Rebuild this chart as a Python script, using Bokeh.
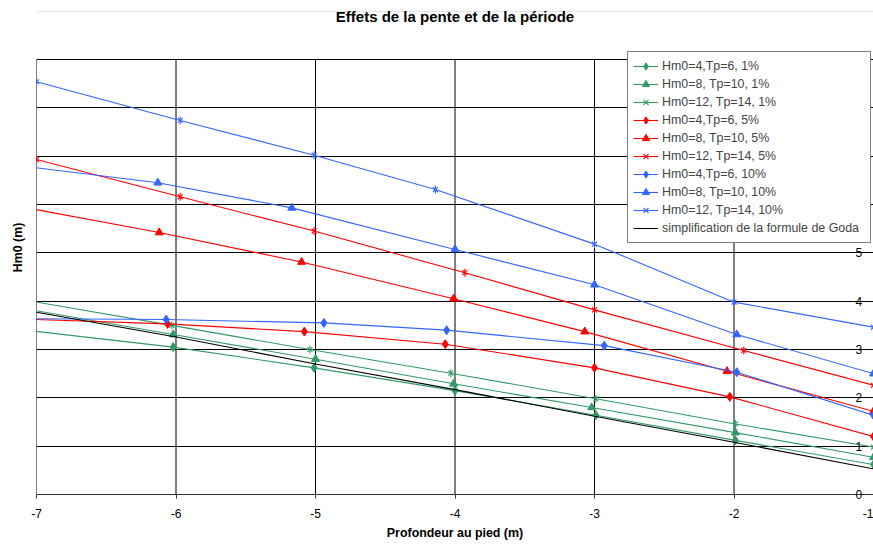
import numpy as np
from bokeh.plotting import figure
from bokeh.models import (Range1d, FixedTicker, Legend, LegendItem,
                          LinearAxis, Grid, Label)
from bokeh.embed import file_html
from bokeh.resources import INLINE

# Profondeur au pied (m) / Hm0 (m) for each case (swell height, period, slope)
x_h4_1 = [-7.2, -6.02, -5.01, -4.0, -2.99, -1.99, -1.0]
y_h4_1 = [3.44, 3.05, 2.62, 2.15, 1.64, 1.12, 0.62]
x_h8_1 = [-7.2, -6.02, -5.0, -4.01, -3.02, -1.99, -1.0]
y_h8_1 = [3.90, 3.31, 2.80, 2.29, 1.80, 1.28, 0.77]
x_h12_1 = [-7.2, -6.03, -5.04, -4.03, -2.99, -1.99, -1.0]
y_h12_1 = [4.08, 3.50, 3.00, 2.51, 1.98, 1.46, 0.98]

x_h4_5 = [-7.2, -6.06, -5.08, -4.07, -3.0, -2.03, -1.0]
y_h4_5 = [3.64, 3.53, 3.37, 3.11, 2.62, 2.02, 1.20]
x_h8_5 = [-7.2, -6.12, -5.10, -4.01, -3.07, -2.05, -1.0]
y_h8_5 = [6.00, 5.42, 4.81, 4.05, 3.37, 2.55, 1.72]
x_h12_5 = [-7.0, -5.97, -5.01, -3.93, -3.0, -1.93, -1.0]
y_h12_5 = [6.93, 6.16, 5.45, 4.59, 3.82, 2.98, 2.26]

x_h4_10 = [-7.2, -6.07, -4.94, -4.06, -2.93, -1.98, -1.0]
y_h4_10 = [3.64, 3.62, 3.55, 3.40, 3.08, 2.53, 1.64]
x_h8_10 = [-7.2, -6.13, -5.17, -4.0, -3.0, -1.98, -1.0]
y_h8_10 = [6.83, 6.45, 5.93, 5.07, 4.34, 3.31, 2.50]
x_h12_10 = [-7.0, -5.97, -5.01, -4.14, -3.0, -2.0, -1.0]
y_h12_10 = [8.54, 7.74, 7.02, 6.31, 5.18, 3.98, 3.46]

x_goda = [-7, -6, -5, -4, -3, -2, -1]
y_goda = [3.77, 3.26, 2.70, 2.17, 1.62, 1.08, 0.53]

labels = ["Hm0=4,Tp=6, 1%", "Hm0=8, Tp=10, 1%", "Hm0=12, Tp=14, 1%",
          "Hm0=4,Tp=6, 5%", "Hm0=8, Tp=10, 5%", "Hm0=12, Tp=14, 5%",
          "Hm0=4,Tp=6, 10%", "Hm0=8, Tp=10, 10%", "Hm0=12, Tp=14, 10%",
          "simplification de la formule de Goda"]

x_ticks = [-7, -6, -5, -4, -3, -2, -1]
y_ticks = [0, 1, 2, 3, 4, 5, 6, 7, 8, 9]

GREEN = "#339966"
RED = "#FF0000"
BLUE = "#3366FF"
FONT = "Liberation Sans"

# the plotting area reaches the top of the canvas so the title sits inside it;
# grid lines stop at the last tick (9)
p = figure(width=873, height=545, x_range=Range1d(-7, -1),
           y_range=Range1d(0, 10.221), title=None,
           output_backend="svg", toolbar_location=None, y_axis_location=None,
           min_border_left=36, min_border_right=0, min_border_top=0,
           min_border_bottom=51)
p.outline_line_color = None
p.background_fill_color = "white"

# x axis at the bottom (plain hyphen for the minus sign)
ax = p.xaxis[0]
ax.ticker = FixedTicker(ticks=x_ticks)
ax.major_label_overrides = {t: str(t) for t in x_ticks}
ax.major_tick_out = 4
ax.major_tick_in = 0
ax.minor_tick_line_color = None
ax.axis_line_color = "#333333"
ax.major_tick_line_color = "#333333"
ax.major_label_text_font = FONT
ax.major_label_text_font_size = "12px"
ax.major_label_text_color = "black"
ax.major_label_standoff = 10
ax.axis_label = "Profondeur au pied (m)"
ax.axis_label_text_font = FONT
ax.axis_label_text_font_size = "12.4px"
ax.axis_label_text_font_style = "bold"
ax.axis_label_text_color = "black"
ax.axis_label_standoff = 5

# left side carries only the axis title
left = LinearAxis(ticker=FixedTicker(ticks=[]), axis_line_color=None,
                  major_tick_out=0, major_tick_in=0, minor_tick_line_color=None,
                  major_label_standoff=0, axis_label="Hm0 (m)",
                  axis_label_text_font=FONT, axis_label_text_font_size="12.4px",
                  axis_label_text_font_style="bold", axis_label_text_color="black",
                  axis_label_standoff=12)
p.add_layout(left, "left")

# value axis on the right edge, its labels drawn inside the plot
right = LinearAxis(ticker=FixedTicker(ticks=y_ticks), axis_line_color=None,
                   major_tick_out=0, major_tick_in=0, minor_tick_line_color=None,
                   major_label_standoff=-18, major_label_text_font=FONT,
                   major_label_text_font_size="12px",
                   major_label_text_color="black")
p.add_layout(right, "right")

# grid: horizontal lines across, vertical lines from 0 to 9
p.xgrid.grid_line_color = None
p.add_layout(Grid(dimension=1, ticker=FixedTicker(ticks=y_ticks),
                  grid_line_color="#000000", grid_line_width=1))
p.segment(x0=x_ticks, y0=[y_ticks[0]] * len(x_ticks), x1=x_ticks,
          y1=[y_ticks[-1]] * len(x_ticks), line_color="#000000", line_width=1)

series = [
    (x_h4_1, y_h4_1, GREEN, "diamond"),
    (x_h8_1, y_h8_1, GREEN, "triangle"),
    (x_h12_1, y_h12_1, GREEN, "star"),
    (x_h4_5, y_h4_5, RED, "diamond"),
    (x_h8_5, y_h8_5, RED, "triangle"),
    (x_h12_5, y_h12_5, RED, "star"),
    (x_h4_10, y_h4_10, BLUE, "diamond"),
    (x_h8_10, y_h8_10, BLUE, "triangle"),
    (x_h12_10, y_h12_10, BLUE, "star"),
]

items = []
for (xs, ys, col, mk), lab in zip(series, labels):
    rs = [p.line(xs, ys, line_color=col, line_width=1.1)]
    if mk == "diamond":
        rs.append(p.scatter(xs, ys, marker="diamond", size=9,
                            fill_color=col, line_color=col))
    elif mk == "triangle":
        rs.append(p.scatter(xs, ys, marker="triangle", size=8,
                            fill_color=col, line_color=col))
    else:
        rs.append(p.scatter(xs, ys, marker="x", size=7, line_color=col,
                            line_width=1.1))
        rs.append(p.scatter(xs, ys, marker="dash", angle=np.pi / 2, size=8,
                            line_color=col, line_width=1.1))
    items.append(LegendItem(label=lab, renderers=rs))

goda = p.line(x_goda, y_goda, line_color="black", line_width=1.1)
items.append(LegendItem(label=labels[-1], renderers=[goda]))

# chart title
p.add_layout(Label(x=-4.0, y=9.90, text="Effets de la pente et de la période",
                   text_align="center", text_baseline="middle", text_font=FONT,
                   text_font_size="15px", text_font_style="bold",
                   text_color="black"))

legend = Legend(items=items, location=(591, 251), orientation="vertical",
                label_text_font=FONT, label_text_font_size="12.4px",
                label_height=18, glyph_height=18, glyph_width=25,
                label_standoff=4, label_width=203, padding=5, spacing=0,
                margin=0, border_line_color="black", border_line_width=1,
                background_fill_color="white", background_fill_alpha=1.0,
                level="overlay")
p.add_layout(legend)

open("out.html", "w").write(file_html(p, INLINE))
